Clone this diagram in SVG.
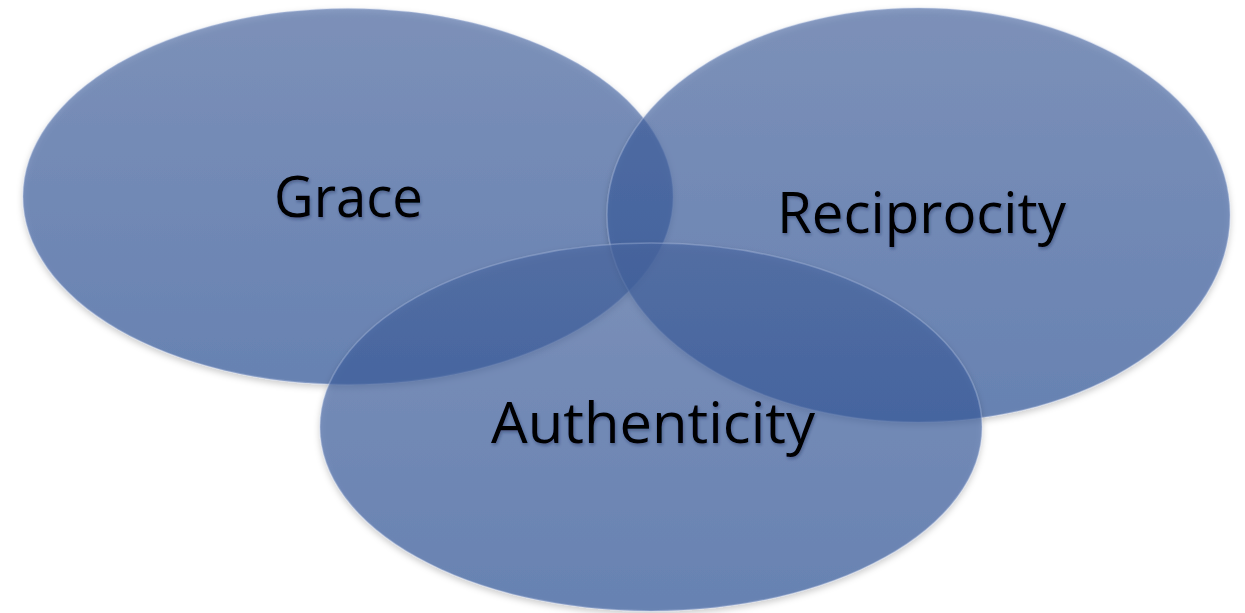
<svg xmlns="http://www.w3.org/2000/svg" width="1245" height="613" viewBox="0 0 1245 613">
  <defs>
    <linearGradient id="fillGrad" x1="0" y1="0" x2="0" y2="1">
      <stop offset="0" stop-color="#4a68a3"/>
      <stop offset="1" stop-color="#2b5299"/>
    </linearGradient>
    <filter id="shapeShadow" x="-10%" y="-10%" width="120%" height="125%">
      <feDropShadow dx="0" dy="3" stdDeviation="3" flood-color="#000" flood-opacity="0.3"/>
    </filter>
    <filter id="textShadow" x="-10%" y="-20%" width="120%" height="150%">
      <feDropShadow dx="1" dy="2" stdDeviation="1.8" flood-color="#1a2a50" flood-opacity="0.4"/>
    </filter>
  </defs>
  <style>
    .bubble { fill: url(#fillGrad); fill-opacity: 0.64; stroke: #b4c2e2; stroke-opacity: 0.35; stroke-width: 1.5; filter: url(#shapeShadow); }
    .label { font-family: "Open Sans", "Noto Sans", "Liberation Sans", sans-serif; font-size: 56px; fill: #000; filter: url(#textShadow); }
  </style>
  <rect width="1245" height="613" fill="#ffffff"/>
  <g id="node-grace">
    <ellipse class="bubble" cx="348" cy="196.5" rx="325" ry="188"/>
  </g>
  <g id="node-reciprocity">
    <ellipse class="bubble" cx="918.5" cy="215" rx="311.5" ry="207"/>
  </g>
  <g id="node-authenticity">
    <ellipse class="bubble" cx="651" cy="427" rx="331" ry="184"/>
  </g>
  <g id="connectors"></g>
  <g id="labels">
    <text class="label" x="274" y="217" textLength="149" lengthAdjust="spacingAndGlyphs">Grace</text>
    <text class="label" x="777" y="233" textLength="289" lengthAdjust="spacingAndGlyphs">Reciprocity</text>
    <text class="label" x="491" y="443" textLength="324" lengthAdjust="spacingAndGlyphs">Authenticity</text>
  </g>
</svg>
